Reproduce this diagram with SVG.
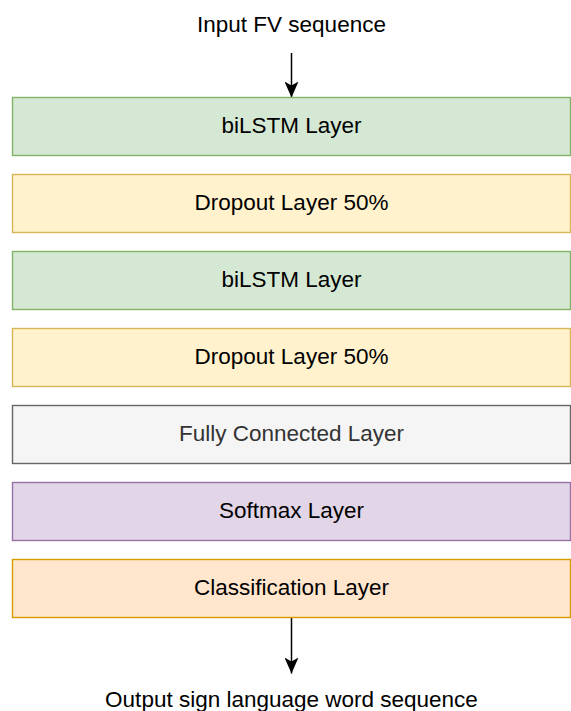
<svg xmlns="http://www.w3.org/2000/svg" width="571" height="711" viewBox="0 0 571 711">
  <style>
    text { font-family: "Liberation Sans", Arial, Helvetica, sans-serif; font-size: 22.5px; text-anchor: middle; fill: #000; }
    .box { stroke-width: 1.4; }
    .green { fill: #d5e8d4; stroke: #82b366; }
    .yellow { fill: #fff2cc; stroke: #d6b656; }
    .grey { fill: #f5f5f5; stroke: #666666; }
    .purple { fill: #e1d5e7; stroke: #9673a6; }
    .orange { fill: #ffe6cc; stroke: #d79b00; }
    .edge { stroke: #000; stroke-width: 1.5; fill: none; }
  </style>
  <defs>
    <marker id="arrow" viewBox="0 0 16 14" refX="16" refY="7" markerWidth="16" markerHeight="14" markerUnits="userSpaceOnUse" orient="auto">
      <path d="M0,0 L16,7 L0,14 L4,7 Z" fill="#000"/>
    </marker>
  </defs>

  <!-- terminal labels -->
  <text id="input-label" x="291.5" y="32">Input FV sequence</text>
  <text id="output-label" x="291.5" y="707">Output sign language word sequence</text>

  <!-- connectors -->
  <g id="connectors">
    <path class="edge" d="M291.5,53 L291.5,97.5" marker-end="url(#arrow)"/>
    <path class="edge" d="M291.5,617 L291.5,673.5" marker-end="url(#arrow)"/>
  </g>

  <!-- layer stack -->
  <g id="bilstm-1">
    <rect class="box green" x="12.5" y="97.5" width="558" height="58"/>
    <text x="291.5" y="133.3">biLSTM Layer</text>
  </g>
  <g id="dropout-1">
    <rect class="box yellow" x="12.5" y="174.5" width="558" height="58"/>
    <text x="291.5" y="210.3">Dropout Layer 50%</text>
  </g>
  <g id="bilstm-2">
    <rect class="box green" x="12.5" y="251.5" width="558" height="58"/>
    <text x="291.5" y="287.3">biLSTM Layer</text>
  </g>
  <g id="dropout-2">
    <rect class="box yellow" x="12.5" y="328.5" width="558" height="58"/>
    <text x="291.5" y="364.3">Dropout Layer 50%</text>
  </g>
  <g id="fully-connected">
    <rect class="box grey" x="12.5" y="405.5" width="558" height="58"/>
    <text x="291.5" y="441.3" style="fill:#333333">Fully Connected Layer</text>
  </g>
  <g id="softmax">
    <rect class="box purple" x="12.5" y="482.5" width="558" height="58"/>
    <text x="291.5" y="518.3">Softmax Layer</text>
  </g>
  <g id="classification">
    <rect class="box orange" x="12.5" y="559.5" width="558" height="58"/>
    <text x="291.5" y="595.3">Classification Layer</text>
  </g>
</svg>
